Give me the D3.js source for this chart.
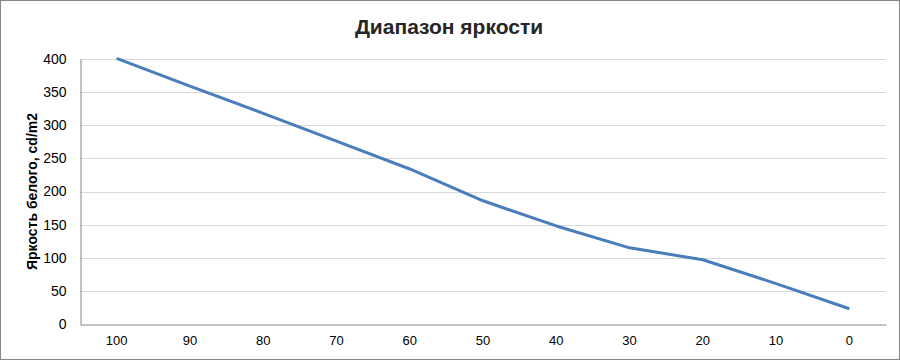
<!DOCTYPE html>
<html>
<head>
<meta charset="utf-8">
<script src="https://cdn.jsdelivr.net/npm/d3@7"></script>
<style>
  body { margin: 0; background: #fff; }
  svg { font-family: 'Liberation Sans', Arial, sans-serif; }
</style>
</head>
<body>
<svg id="chart" width="900" height="360"></svg>
<script>
const categories = ['100', '90', '80', '70', '60', '50', '40', '30', '20', '10', '0'];
const brightness = [401, 359, 318, 276, 234, 186, 148, 115, 97, 61, 23];
const yTicks = [0, 50, 100, 150, 200, 250, 300, 350, 400];

function drawChart() {
  const width = 900;
  const height = 360;
  const margin = {top: 59, right: 14, bottom: 36, left: 80};

  const svg = d3.select('svg#chart');

  svg.append('rect')
    .attr('x', 0.5).attr('y', 0.5)
    .attr('width', width - 1).attr('height', height - 1)
    .attr('fill', '#fff')
    .attr('stroke', '#868686');

  const x = d3.scaleBand()
    .domain(categories)
    .range([margin.left, width - margin.right]);

  const y = d3.scaleLinear()
    .domain([0, 400])
    .range([height - margin.bottom, margin.top]);

  // gridlines
  svg.append('g')
    .selectAll('line')
    .data(yTicks.slice(1)).enter()
    .append('line')
    .attr('x1', margin.left).attr('x2', width - margin.right)
    .attr('y1', (d) => Math.round(y(d)) + 0.5)
    .attr('y2', (d) => Math.round(y(d)) + 0.5)
    .attr('stroke', '#d9d9d9');

  const yAxis = svg.append('g')
    .attr('transform', `translate(${margin.left + 0.5},0)`)
    .call(d3.axisLeft(y).tickValues(yTicks).tickSize(0).tickPadding(14));
  yAxis.select('.domain').attr('stroke', '#868686');
  yAxis.selectAll('text').attr('font-size', 14).attr('fill', '#000');

  const xAxis = svg.append('g')
    .attr('transform', `translate(0,${Math.round(height - margin.bottom) + 0.5})`)
    .call(d3.axisBottom(x).tickSize(0).tickPadding(11).tickSizeOuter(0));
  xAxis.select('.domain').attr('stroke', '#868686');
  xAxis.selectAll('text').attr('font-size', 13).attr('fill', '#000');

  const line = d3.line()
    .x((d, i) => x(categories[i]) + x.bandwidth() / 2)
    .y((d) => y(d));

  svg.append('path')
    .datum(brightness)
    .attr('d', line)
    .attr('fill', 'none')
    .attr('stroke', '#4a7ebb')
    .attr('stroke-width', 3)
    .attr('stroke-linejoin', 'round');

  svg.append('text')
    .attr('x', 449).attr('y', 34)
    .attr('text-anchor', 'middle')
    .attr('font-size', 21)
    .attr('font-weight', 'bold')
    .attr('fill', '#262626')
    .text('Диапазон яркости');

  svg.append('text')
    .attr('transform', `translate(37,${(margin.top + height - margin.bottom) / 2}) rotate(-90)`)
    .attr('text-anchor', 'middle')
    .attr('font-size', 14)
    .attr('font-weight', 'bold')
    .attr('fill', '#000')
    .text('Яркость белого, cd/m2');
}

window.addEventListener('load', drawChart);
</script>
</body>
</html>
